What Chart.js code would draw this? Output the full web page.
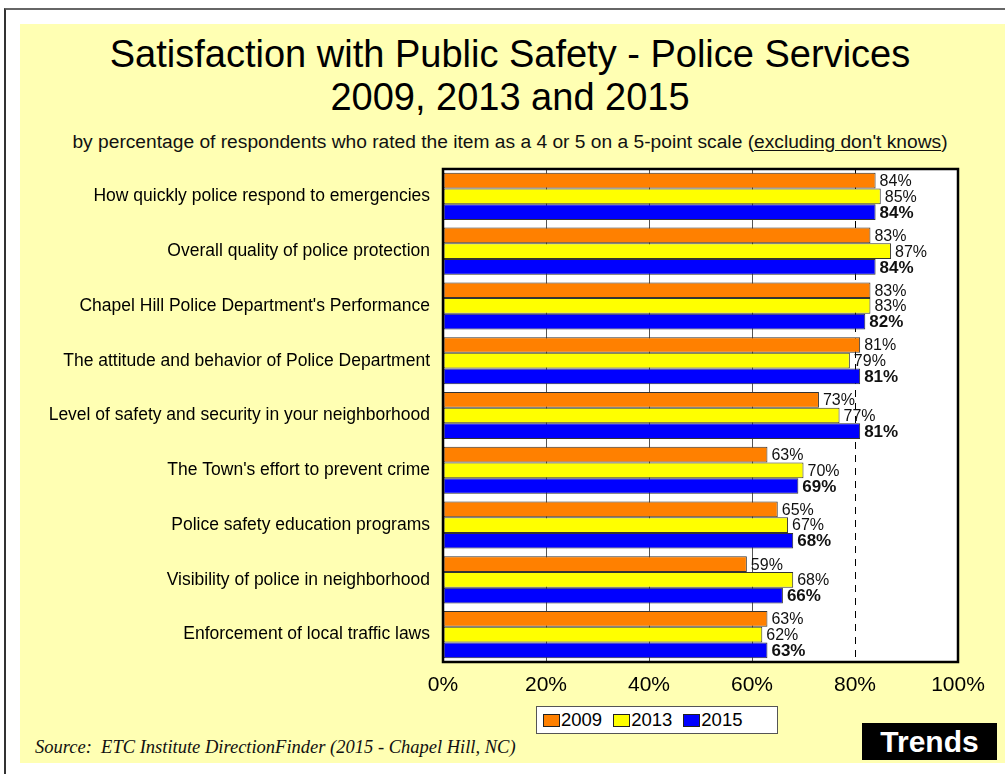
<!DOCTYPE html>
<html lang="en">
<head>
  <meta charset="UTF-8">
  <title>Satisfaction with Public Safety - Police Services</title>
  <script src="https://cdn.jsdelivr.net/npm/chart.js"></script>
  <style>
    body {
      margin: 0;
      background: #ffffff;
      font-family: "Liberation Sans", Arial, sans-serif;
      width: 1005px;
      height: 774px;
      position: relative;
      overflow: hidden;
    }
    #frame {
      position: absolute;
      left: 4px;
      top: 8px;
      width: 1010px;
      height: 780px;
      border-top: 2px solid #666;
      border-left: 2px solid #333;
    }
    #panel {
      position: absolute;
      left: 20px;
      top: 24px;
      width: 985px;
      height: 739px;
      background: #ffffb3;
    }
    #title {
      position: absolute;
      left: 0;
      top: 33px;
      width: 1020px;
      text-align: center;
      font-size: 38px;
      line-height: 43px;
      color: #000;
    }
    #subtitle {
      position: absolute;
      left: 0;
      top: 131px;
      width: 1020px;
      text-align: center;
      font-size: 19.2px;
      color: #111;
    }
    #subtitle u { text-underline-offset: 2px; }
    #chartCanvas {
      position: absolute;
      left: 20px;
      top: 160px;
    }
    #legend {
      position: absolute;
      left: 536px;
      top: 706px;
      width: 240px;
      height: 26px;
      background: #fff;
      border: 1px solid #555;
      font-size: 18.5px;
      line-height: 26px;
      white-space: nowrap;
    }
    #legend span.sw {
      display: inline-block;
      width: 15px;
      height: 11px;
      border: 1px solid #222;
      margin: 0 1px 0 6px;
      vertical-align: -1px;
    }
    #legend span.lbl { margin-right: 5px; }
    #source {
      position: absolute;
      left: 35px;
      top: 737px;
      font-family: "Liberation Serif", "Times New Roman", serif;
      font-style: italic;
      font-size: 18.5px;
      color: #111;
    }
    #trends {
      position: absolute;
      left: 862px;
      top: 723px;
      width: 135px;
      height: 37px;
      background: #000;
      color: #fff;
      font-weight: bold;
      font-size: 30px;
      line-height: 37px;
      text-align: center;
    }
  </style>
</head>
<body>
  <div id="frame"></div>
  <div id="panel"></div>
  <div id="title">Satisfaction with Public Safety - Police Services<br>2009, 2013 and 2015</div>
  <div id="subtitle">by percentage of respondents who rated the item as a 4 or 5 on a 5-point scale (<u>excluding don't knows</u>)</div>

  <canvas id="chartCanvas" width="985" height="545"></canvas>

  <div id="legend"></div>
  <div id="source">Source:&nbsp; ETC Institute DirectionFinder (2015 - Chapel Hill, NC)</div>
  <div id="trends">Trends</div>

  <script>
    const categories = [
      "How quickly police respond to emergencies",
      "Overall quality of police protection",
      "Chapel Hill Police Department's Performance",
      "The attitude and behavior of Police Department",
      "Level of safety and security in your neighborhood",
      "The Town's effort to prevent crime",
      "Police safety education programs",
      "Visibility of police in neighborhood",
      "Enforcement of local traffic laws"
    ];
    const years = ["2009", "2013", "2015"];
    const values2009 = [84, 83, 83, 81, 73, 63, 65, 59, 63];
    const values2013 = [85, 87, 83, 79, 77, 70, 67, 68, 62];
    const values2015 = [84, 84, 82, 81, 81, 69, 68, 66, 63];
    const colors = ["#ff8000", "#ffff00", "#0000ff"];
    const xTicks = [0, 20, 40, 60, 80, 100];

    const FONT = '"Liberation Sans", Arial, sans-serif';

    // white plot background + black frame
    const plotFrame = {
      id: 'plotFrame',
      beforeDraw(chart) {
        const a = chart.chartArea, ctx = chart.ctx;
        ctx.save();
        ctx.fillStyle = '#fff';
        ctx.fillRect(a.left, a.top, a.right - a.left, a.bottom - a.top);
        ctx.restore();
      },
      afterDatasetsDraw(chart) {
        const a = chart.chartArea, ctx = chart.ctx;
        ctx.save();
        ctx.strokeStyle = '#000';
        ctx.lineWidth = 2.5;
        ctx.strokeRect(a.left, a.top, a.right - a.left, a.bottom - a.top);
        ctx.restore();
      }
    };

    // percentage labels at the end of each bar
    const barLabels = {
      id: 'barLabels',
      afterDatasetsDraw(chart) {
        const ctx = chart.ctx;
        ctx.save();
        ctx.textBaseline = 'middle';
        ctx.textAlign = 'left';
        chart.data.datasets.forEach((ds, i) => {
          const meta = chart.getDatasetMeta(i);
          ctx.font = (i === 2 ? 'bold 17px ' : '16px ') + FONT;
          ctx.fillStyle = '#111';
          meta.data.forEach((bar, j) => {
            ctx.fillText(ds.data[j] + '%', bar.x + 4, bar.y + 1);
          });
        });
        ctx.restore();
      }
    };

    const datasets = [values2009, values2013, values2015].map((vals, i) => ({
      label: years[i],
      data: vals,
      backgroundColor: colors[i],
      borderColor: '#333',
      borderWidth: 1,
      borderSkipped: false,
      categoryPercentage: 0.86,
      barPercentage: 1.0
    }));

    new Chart(document.getElementById('chartCanvas'), {
      type: 'bar',
      data: { labels: categories, datasets: datasets },
      options: {
        indexAxis: 'y',
        responsive: false,
        animation: false,
        layout: { padding: { left: 0, right: 47, top: 9, bottom: 0 } },
        plugins: {
          legend: { display: false },
          tooltip: { enabled: false }
        },
        scales: {
          x: {
            min: 0,
            max: 100,
            afterBuildTicks: s => { s.ticks = xTicks.map(v => ({ value: v })); },
            afterFit: s => { s.height = 43; },
            ticks: {
              color: '#000',
              padding: 11,
              font: { family: FONT, size: 21 },
              callback: v => v + '%'
            },
            grid: {
              drawTicks: false,
              color: c => (c.tick && c.tick.value === 80) ? '#000' : '#555',
              lineWidth: 1
            },
            border: {
              display: false,
              dash: c => (c.tick && c.tick.value === 80) ? [7, 6] : []
            }
          },
          y: {
            afterFit: s => { s.width = 423; s.paddingTop = 0; s.paddingBottom = 0; },
            ticks: {
              color: '#000',
              padding: 5,
              font: { family: FONT, size: 17.5 }
            },
            grid: { display: false },
            border: { display: false }
          }
        }
      },
      plugins: [plotFrame, barLabels]
    });

    // legend
    const legend = document.getElementById('legend');
    years.forEach((y, i) => {
      legend.insertAdjacentHTML('beforeend',
        '<span class="sw" style="background:' + colors[i] + '"></span><span class="lbl">' + y + '</span>');
    });
  </script>
</body>
</html>
